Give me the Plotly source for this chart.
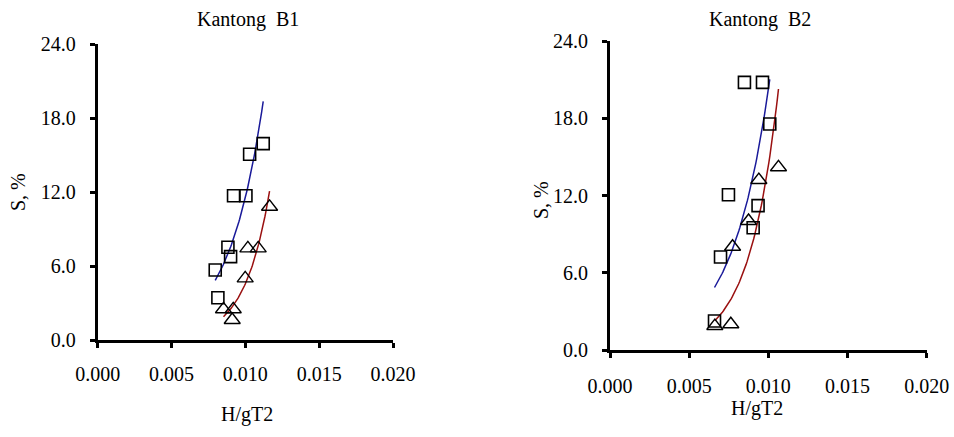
import numpy as np
import plotly.graph_objects as go

# ---- data ----
b1_sq_x = [0.00796, 0.00814, 0.00882, 0.00900, 0.00920, 0.01004, 0.01029, 0.01121]
b1_sq_y = [5.68, 3.43, 7.52, 6.76, 11.7, 11.7, 15.06, 15.92]
b1_tri_x = [0.00852, 0.00918, 0.00911, 0.00999, 0.01017, 0.01087, 0.01164]
b1_tri_y = [2.49, 2.49, 1.62, 5.00, 7.43, 7.43, 10.8]

b2_sq_x = [0.00849, 0.00963, 0.01009, 0.00748, 0.00935, 0.00904, 0.00698, 0.00660]
b2_sq_y = [20.79, 20.79, 17.55, 12.06, 11.21, 9.50, 7.22, 2.25]
b2_tri_x = [0.00662, 0.00763, 0.00774, 0.00875, 0.00940, 0.01064]
b2_tri_y = [1.86, 2.00, 8.02, 10.02, 13.2, 14.19]

x_ticks = [0.000, 0.005, 0.010, 0.015, 0.020]
y_ticks = [0.0, 6.0, 12.0, 18.0, 24.0]
titles = ["Kantong  B1", "Kantong  B2"]
x_title = "H/gT2"
y_title = "S, %"

FONT = "Liberation Serif, Times New Roman, Times, serif"
BLUE = "#1a1a9a"
RED = "#9a1010"


def exp_fit(xs, ys, n=60):
    xs = np.asarray(xs, float)
    ys = np.asarray(ys, float)
    b, ln_a = np.polyfit(xs, np.log(ys), 1)
    xx = np.linspace(xs.min(), xs.max(), n)
    return xx, np.exp(ln_a) * np.exp(b * xx)


fig = go.Figure()

panels = [
    ("x", "y", b1_sq_x, b1_sq_y, b1_tri_x, b1_tri_y),
    ("x2", "y2", b2_sq_x, b2_sq_y, b2_tri_x, b2_tri_y),
]
for xa, ya, sx, sy, tx, ty in panels:
    fx, fy = exp_fit(sx, sy)
    fig.add_trace(go.Scatter(x=fx, y=fy, mode="lines", xaxis=xa, yaxis=ya,
                             line=dict(color=BLUE, width=1.5), showlegend=False))
    fx, fy = exp_fit(tx, ty)
    fig.add_trace(go.Scatter(x=fx, y=fy, mode="lines", xaxis=xa, yaxis=ya,
                             line=dict(color=RED, width=1.5), showlegend=False))
    fig.add_trace(go.Scatter(x=sx, y=sy, mode="markers", xaxis=xa, yaxis=ya,
                             cliponaxis=False,
                             marker=dict(symbol="square-open", size=12, color="black",
                                         line=dict(width=1.6, color="black")),
                             showlegend=False))
    fig.add_trace(go.Scatter(x=tx, y=ty, mode="markers", xaxis=xa, yaxis=ya,
                             cliponaxis=False,
                             marker=dict(symbol="triangle-up-open", size=14, color="black",
                                         line=dict(width=1.4, color="black")),
                             showlegend=False))

W, H = 954, 437
L1, R1, T1, B1 = 97.7, 393.0, 44.0, 340.0
L2, R2, T2, B2 = 610.0, 926.7, 41.0, 350.0


def xaxis_style(standoff):
    return dict(range=[0, 0.02], tickvals=x_ticks, tickformat=".3f", showgrid=False,
                zeroline=False, showline=True, linecolor="black", linewidth=3,
                ticks="outside", ticklen=5, tickwidth=2.5, tickcolor="black",
                automargin=False,
                tickfont=dict(family=FONT, size=20, color="black"),
                ticklabelstandoff=standoff)


common_y = dict(range=[0, 24], tickvals=y_ticks, tickformat=".1f", showgrid=False,
                zeroline=False, showline=True, linecolor="black", linewidth=3,
                ticks="outside", ticklen=5, tickwidth=2.5, tickcolor="black",
                automargin=False,
                tickfont=dict(family=FONT, size=20, color="black"), ticklabelstandoff=10)

fig.update_layout(
    width=W, height=H, margin=dict(l=0, r=0, t=0, b=0, pad=0, autoexpand=False),
    paper_bgcolor="white", plot_bgcolor="white",
    font=dict(family=FONT, size=20, color="black"),
    xaxis=dict(domain=[L1 / W, R1 / W], anchor="y", **xaxis_style(9)),
    yaxis=dict(domain=[1 - B1 / H, 1 - T1 / H], anchor="x", **common_y),
    xaxis2=dict(domain=[L2 / W, R2 / W], anchor="y2", **xaxis_style(11)),
    yaxis2=dict(domain=[1 - B2 / H, 1 - T2 / H], anchor="x2", **common_y),
)

ann = [
    dict(text=titles[0], x=248 / W, y=1 - 20 / H),
    dict(text=titles[1], x=760 / W, y=1 - 20 / H),
    dict(text=x_title, x=247 / W, y=1 - 414 / H),
    dict(text=x_title, x=757 / W, y=1 - 408 / H),
]
for a in ann:
    fig.add_annotation(xref="paper", yref="paper", showarrow=False,
                       xanchor="center", yanchor="middle",
                       font=dict(family=FONT, size=20, color="black"), **a)
for xx, yy in [(18, 192), (541, 200)]:
    fig.add_annotation(text=y_title, xref="paper", yref="paper", x=xx / W, y=1 - yy / H,
                       showarrow=False, textangle=-90, xanchor="center", yanchor="middle",
                       font=dict(family=FONT, size=20, color="black"))

post = """
document.body.style.margin = '0px';
var st = document.createElement('style');
st.textContent = '.main-svg text { font-family: "Liberation Serif", "Times New Roman", serif !important; }';
document.head.appendChild(st);
var gd = document.getElementById('{plot_id}');
if (document.fonts && document.fonts.load) {
  document.fonts.load('20px "Liberation Serif"').then(function () {
    Plotly.relayout(gd, {'xaxis.range': [0, 0.02]});
  });
}
"""

fig.write_html("out.html", config={"displayModeBar": False}, post_script=post)
